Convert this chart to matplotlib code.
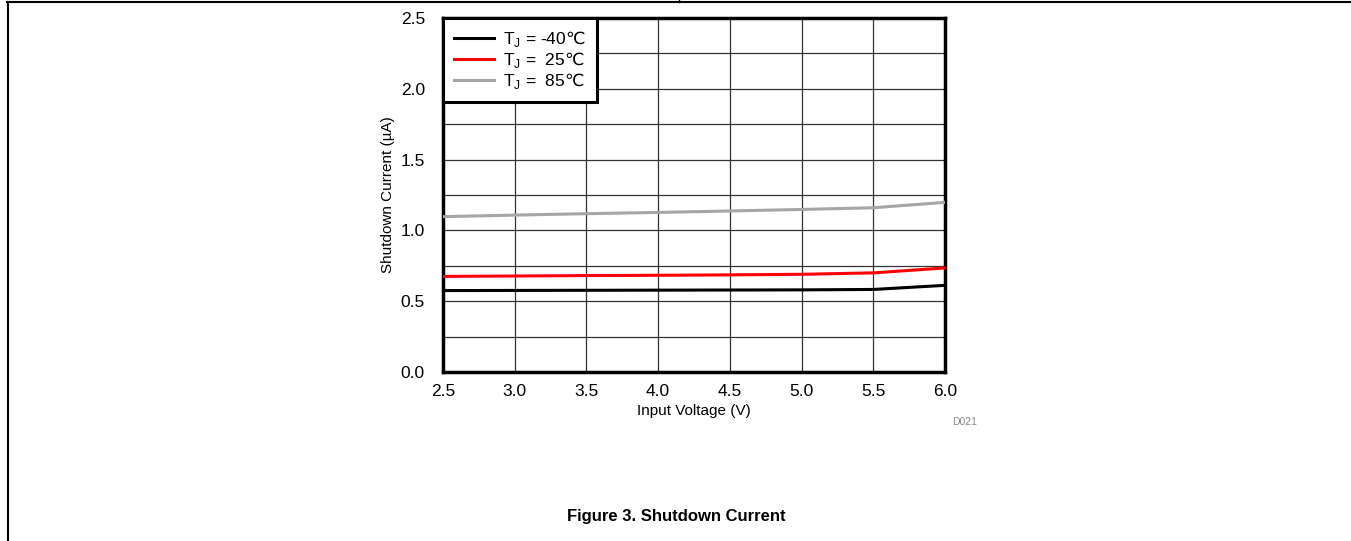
import matplotlib
matplotlib.use("Agg")
import matplotlib.pyplot as plt
from matplotlib.lines import Line2D
import numpy as np

plt.rcParams['font.family'] = ['Liberation Sans', 'DejaVu Sans']
plt.rcParams['mathtext.fontset'] = 'custom'
plt.rcParams['mathtext.rm'] = 'Liberation Sans'
plt.rcParams['mathtext.sf'] = 'DejaVu Sans'

# dados
vin = [2.5, 3.0, 3.5, 4.0, 4.5, 5.0, 5.5, 6.0]
i_m40 = [0.575, 0.576, 0.577, 0.578, 0.579, 0.580, 0.583, 0.612]
i_25 = [0.675, 0.678, 0.681, 0.683, 0.686, 0.690, 0.700, 0.735]
i_85 = [1.097, 1.108, 1.118, 1.127, 1.137, 1.148, 1.160, 1.198]

labels = [r"T$_\mathrm{J}$ = -40$\mathsf{℃}$", r"T$_\mathrm{J}$ =  25$\mathsf{℃}$",
          r"T$_\mathrm{J}$ =  85$\mathsf{℃}$"]
colors = ["#000000", "#ff0000", "#a6a6a6"]

W, H = 1351, 541
fig = plt.figure(figsize=(W / 100, H / 100), dpi=100)
ax = fig.add_axes([443 / W, 1 - 372 / H, (945 - 443) / W, (372 - 18) / H])

for serie, lab, c in zip([i_m40, i_25, i_85], labels, colors):
    ax.plot(vin, serie, color=c, lw=2.2, label=lab, zorder=3)

ax.set_xlim(2.5, 6.0)
ax.set_ylim(0.0, 2.5)
ax.set_xticks(np.arange(2.5, 6.01, 0.5))
ax.set_yticks(np.arange(0.0, 2.51, 0.5))
ax.set_yticks(np.arange(0.25, 2.5, 0.5), minor=True)
ax.set_xticklabels(["%.1f" % v for v in np.arange(2.5, 6.01, 0.5)])
ax.set_yticklabels(["%.1f" % v for v in np.arange(0.0, 2.51, 0.5)])
ax.tick_params(which='both', length=0, labelsize=12.5)
ax.tick_params(axis='x', pad=9)
ax.tick_params(axis='y', pad=13)
ax.grid(True, which='both', color='#333333', lw=0.9)
for s in ax.spines.values():
    s.set_linewidth(2.5)
    s.set_color('black')

ax.set_xlabel("Input Voltage (V)", fontsize=11, labelpad=3)
ax.set_ylabel("Shutdown Current (µA)", fontsize=11, labelpad=4)

leg = ax.legend(loc='upper left', fontsize=12.5, frameon=True, fancybox=False,
                borderaxespad=0, handlelength=2.3, labelspacing=0.05,
                borderpad=0.65, handletextpad=0.5)
leg.get_frame().set_edgecolor('black')
leg.get_frame().set_linewidth(2.2)
leg.get_frame().set_alpha(1)

fig.text(965 / W, 1 - 422 / H, "D021", fontsize=7.5, color='#888888', ha='center', va='center')
fig.text(676 / W, 1 - 517 / H, "Figure 3. Shutdown Current", fontsize=12,
         fontweight='bold', ha='center', va='center')

# moldura da pagina
fig.add_artist(Line2D([7 / W, 1], [1 - 2 / H, 1 - 2 / H], color='black', lw=1.5))
fig.add_artist(Line2D([8 / W, 8 / W], [0, 1 - 2 / H], color='black', lw=1.5))
fig.add_artist(Line2D([679 / W, 679 / W], [1, 1 - 2 / H], color='black', lw=1))

fig.savefig("out.png", dpi=100)
